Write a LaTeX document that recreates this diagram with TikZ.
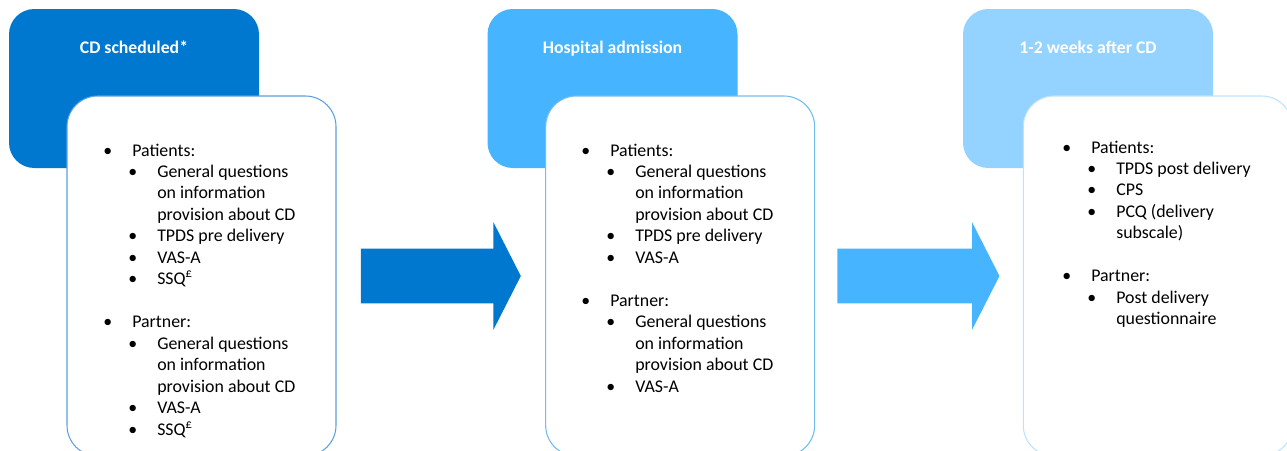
\documentclass[tikz,border=0pt]{standalone}
\usepackage{fontspec}
\setmainfont{Carlito}
\usetikzlibrary{positioning, shapes.arrows}

\definecolor{stepA}{HTML}{0078CF}
\definecolor{stepB}{HTML}{47B4FF}
\definecolor{stepC}{HTML}{94D2FF}
\definecolor{edgeA}{HTML}{5B9FDC}
\definecolor{edgeB}{HTML}{70BDF0}
\definecolor{edgeC}{HTML}{BEE3FF}

% one row of a list: top level, sub level, continued line
\newcommand{\lone}[1]{\textbullet & \multicolumn{2}{@{\hspace{3pt}}l@{}}{#1}\\}
\newcommand{\ltwo}[1]{& \textbullet & #1\\}
\newcommand{\lcont}[1]{& & #1\\}

\begin{document}
\begin{tikzpicture}[x=0.75pt, y=-0.75pt,
     node distance = 18pt and 18pt,
       head/.style = {rectangle, rounded corners=19pt, inner sep=0pt,
                      minimum width=187.5pt, minimum height=119.25pt},
       card/.style = {rectangle, rounded corners=23pt, draw, line width=0.8pt,
                      fill=white, minimum width=201.75pt, minimum height=270pt},
      title/.style = {anchor=base, inner sep=0pt, text=white,
                      font=\bfseries\fontsize{13.3pt}{16pt}\selectfont},
      items/.style = {anchor=base west, inner sep=0pt,
                      font=\fontsize{13.4pt}{16.1pt}\selectfont},
   bigarrow/.style = {single arrow, draw=none, inner xsep=0pt, inner ysep=20.25pt,
                      single arrow head extend=19.9pt, single arrow tip angle=126,
                      minimum height=120pt}
                        ]
\useasboundingbox (0,0) rectangle (1287,450);
% coloured headers
\node (hd1) [head, fill=stepA] at (134,88.5) {};
\node (hd2) [head, fill=stepB] at (612.5,88.5) {};
\node (hd3) [head, fill=stepC] at (1088,88.5) {};
% white cards and arrows
\node (card1) [card, draw=edgeA] at (201.5,276) {};
\node (ar1)   [bigarrow, fill=stepA, right=of card1] {};
\node (card2) [card, draw=edgeB, right=of ar1] {};
\node (ar2)   [bigarrow, fill=stepB, minimum height=121.5pt, right=16.5pt of card2] {};
\node (card3) [card, draw=edgeC, right=17.25pt of ar2] {};
% titles
\node (t1) [title] at (134,53) {CD scheduled*};
\node (t2) [title] at (612.5,53) {Hospital admission};
\node (t3) [title] at (1088,53) {1-2 weeks after CD};
% lists
\node (list1) [items] at (103,156) {\begin{tabular}[t]{@{}p{18.75pt}@{}p{21.75pt}@{}l@{}}
  \lone{Patients:}
  \ltwo{General questions}
  \lcont{on information}
  \lcont{provision about CD}
  \ltwo{TPDS pre delivery}
  \ltwo{VAS-A}
  \ltwo{SSQ\textsuperscript{£}}
  \lcont{}
  \lone{Partner:}
  \ltwo{General questions}
  \lcont{on information}
  \lcont{provision about CD}
  \ltwo{VAS-A}
  \ltwo{SSQ\textsuperscript{£}}
\end{tabular}};
\node (list2) [items] at (581,156) {\begin{tabular}[t]{@{}p{18.75pt}@{}p{21.75pt}@{}l@{}}
  \lone{Patients:}
  \ltwo{General questions}
  \lcont{on information}
  \lcont{provision about CD}
  \ltwo{TPDS pre delivery}
  \ltwo{VAS-A}
  \lcont{}
  \lone{Partner:}
  \ltwo{General questions}
  \lcont{on information}
  \lcont{provision about CD}
  \ltwo{VAS-A}
\end{tabular}};
\node (list3) [items] at (1062,153) {\begin{tabular}[t]{@{}p{18.75pt}@{}p{21.75pt}@{}l@{}}
  \lone{Patients:}
  \ltwo{TPDS post delivery}
  \ltwo{CPS}
  \ltwo{PCQ (delivery}
  \lcont{subscale)}
  \lcont{}
  \lone{Partner:}
  \ltwo{Post delivery}
  \lcont{questionnaire}
\end{tabular}};
\end{tikzpicture}
\end{document}
